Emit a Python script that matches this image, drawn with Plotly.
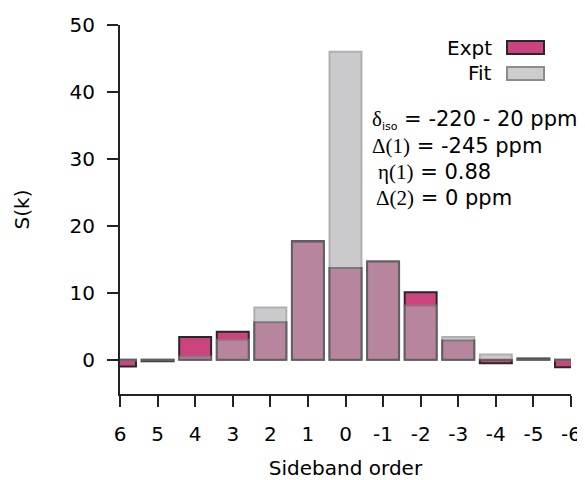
import plotly.graph_objects as go

# Data
orders = [6, 5, 4, 3, 2, 1, 0, -1, -2, -3, -4, -5, -6]
expt = [-1.0, -0.2, 3.4, 4.2, 5.6, 17.7, 13.7, 14.7, 10.1, 2.9, -0.5, 0.2, -1.1]
fit = [-0.1, -0.1, 0.5, 3.0, 7.8, 17.6, 46.0, 14.7, 8.1, 3.4, 0.8, 0.1, -0.1]
y_ticks = [0, 10, 20, 30, 40, 50]
x_tick_labels = ["6", "5", "4", "3", "2", "1", "0", "-1", "-2", "-3", "-4", "-5", "-6"]

PINK = "rgb(203,68,125)"
GRAY = "rgb(172,172,176)"
FONT = "DejaVu Sans, sans-serif"
SERIF = "Liberation Serif, Times New Roman, serif"
FS = 20
AX = "rgb(35,35,35)"

fig = go.Figure()
fig.add_trace(go.Bar(x=orders, y=expt, width=0.85, name="Expt",
                     marker=dict(color=PINK, line=dict(color="rgb(40,40,40)", width=2)),
                     showlegend=False))
fig.add_trace(go.Bar(x=orders, y=fit, width=0.85, name="Fit",
                     marker=dict(color=GRAY, line=dict(color="rgb(130,130,130)", width=2),
                                 opacity=0.63),
                     showlegend=False))

# page has an 8px body margin; figure is sized/offset to compensate
OFF = 8
W, H = 585 - OFF, 480 - OFF
L, R, T, B = 120 - OFF, 14, 25 - OFF, 86
pw, ph = W - L - R, H - T - B

def px(x):  # page pixel -> paper
    return (x - OFF - L) / pw

def py(y):
    return (H - B - (y - OFF)) / ph

annotations = []
shapes = []
# manual legend (text left of swatch)
legend_items = [("Expt", 48, 41, 54, PINK, "rgb(40,40,40)"),
                ("Fit", 73, 67, 80, "rgb(205,205,205)", "rgb(140,140,140)")]
for label, ycen, ytop, ybot, fill, lc in legend_items:
    annotations.append(dict(x=px(494), y=py(ycen), xref="paper", yref="paper",
                            text=label, showarrow=False, xanchor="right", yanchor="middle",
                            font=dict(family=FONT, size=FS, color="black")))
    shapes.append(dict(type="rect", xref="paper", yref="paper",
                       x0=px(507), x1=px(544), y0=py(ybot), y1=py(ytop),
                       fillcolor=fill, line=dict(color=lc, width=2)))

lines = [
    (370, 120, f"<span style='font-family:{SERIF}'>δ</span><sub><span style='font-size:11px'>iso</span></sub> = -220 - 20 ppm"),
    (370, 146, f"<span style='font-family:{SERIF}'>Δ(1)</span> = -245 ppm"),
    (376, 172, f"<span style='font-family:{SERIF}'>η(1)</span> = 0.88"),
    (374, 198, f"<span style='font-family:{SERIF}'>Δ(2)</span> = 0 ppm"),
]
for xx, yy, t in lines:
    annotations.append(dict(x=px(xx), y=py(yy), xref="paper", yref="paper", text=t,
                            showarrow=False, xanchor="left", yanchor="middle",
                            font=dict(family=FONT, size=21, color="black")))

fig.update_layout(
    width=W, height=H,
    margin=dict(l=L, r=R, t=T, b=B),
    plot_bgcolor="white", paper_bgcolor="white",
    barmode="overlay",
    font=dict(family=FONT, size=FS, color="black"),
    annotations=annotations,
    shapes=shapes,
    xaxis=dict(range=[6, -6], tickmode="array", tickvals=orders, ticktext=x_tick_labels,
               showline=True, linecolor=AX, linewidth=2,
               ticks="outside", ticklen=11, tickwidth=2, tickcolor=AX,
               ticklabelstandoff=10,
               showgrid=False, zeroline=False, automargin=False,
               title=dict(text="Sideband order", font=dict(size=FS), standoff=18)),
    yaxis=dict(range=[-5.1, 50], tickmode="array", tickvals=y_ticks,
               showline=True, linecolor=AX, linewidth=2,
               ticks="outside", ticklen=11, tickwidth=2, tickcolor=AX,
               ticklabelstandoff=8,
               showgrid=False, zeroline=False, automargin=False,
               title=dict(text="S(k)", font=dict(size=FS), standoff=35)),
)

fig.write_html("out.html")
